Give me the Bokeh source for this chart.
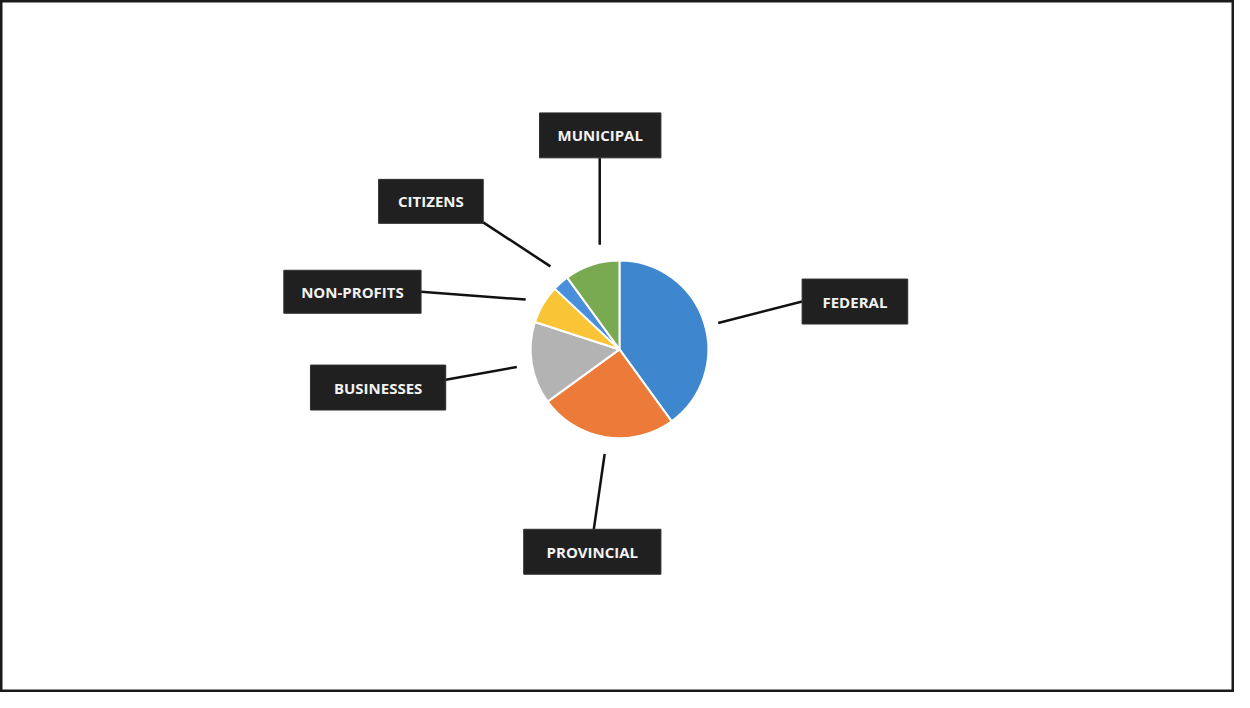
import math
from bokeh.plotting import figure
from bokeh.models import ColumnDataSource, Range1d
from bokeh.core.properties import value
from bokeh.embed import file_html
from bokeh.resources import INLINE

# ---- data ----
categories = ["FEDERAL", "PROVINCIAL", "BUSINESSES", "NON-PROFITS", "CITIZENS", "MUNICIPAL"]
shares = [40, 25, 15, 7, 3, 10]
colors = ["#3E86CD", "#EC7B3A", "#B3B3B3", "#F9C536", "#4A8FDB", "#79AA52"]

# ---- layout (reference image pixel space 1250 x 708) ----
W, H = 1234, 692
RW, RH = 1250, 708

def X(sx):
    return sx

def Y(sy):
    return RH - sy

pie_cx, pie_cy, pie_r = 627, 357, 90

# label boxes (left, top, right, bottom) and leader lines (inner x,y, outer x,y)
boxes = {
    "FEDERAL": (812, 285, 919, 331),
    "PROVINCIAL": (530, 541, 669, 587),
    "BUSINESSES": (314, 373, 451, 419),
    "NON-PROFITS": (287, 276, 426, 320),
    "CITIZENS": (383, 183, 489, 228),
    "MUNICIPAL": (546, 115, 669, 161),
}
leaders = {
    "FEDERAL": (727, 330, 812, 308),
    "PROVINCIAL": (612, 464, 601, 541),
    "BUSINESSES": (523, 375, 451, 388),
    "NON-PROFITS": (532, 306, 426, 298),
    "CITIZENS": (557, 272, 489, 227),
    "MUNICIPAL": (607, 250, 607, 161),
}

p = figure(width=W, height=H, x_range=Range1d(0, RW), y_range=Range1d(0, RH),
           output_backend="svg", toolbar_location=None, min_border=0,
           background_fill_color="white", border_fill_color="white")
p.axis.visible = False
p.grid.visible = False
p.outline_line_color = "#1a1a1a"
p.outline_line_width = 4

# ---- pie ----
total = float(sum(shares))
starts, ends = [], []
acc = 0.0
for v in shares:
    a0 = math.pi / 2 - 2 * math.pi * acc / total
    acc += v
    a1 = math.pi / 2 - 2 * math.pi * acc / total
    starts.append(a0)
    ends.append(a1)

src = ColumnDataSource(dict(cat=categories, share=shares, color=colors,
                            start=starts, end=ends))
p.wedge(x=X(pie_cx), y=Y(pie_cy), radius=pie_r, start_angle="start", end_angle="end",
        direction="clock", fill_color="color", line_color="white", line_width=2,
        source=src)

# ---- leader lines ----
for c in categories:
    x0, y0, x1, y1 = leaders[c]
    p.line([X(x0), X(x1)], [Y(y0), Y(y1)], line_color="#111111", line_width=2.5)

# ---- label boxes ----
lefts = [X(boxes[c][0]) for c in categories]
rights = [X(boxes[c][2]) for c in categories]
tops = [Y(boxes[c][1]) for c in categories]
bottoms = [Y(boxes[c][3]) for c in categories]
p.quad(left=lefts, right=rights, top=tops, bottom=bottoms,
       fill_color="#202020", line_color="#303030", line_width=1)

tx = [(l + r) / 2 for l, r in zip(lefts, rights)]
ty = [(t + b) / 2 for t, b in zip(tops, bottoms)]
p.text(x=tx, y=ty, text=categories, text_align="center", text_baseline="middle",
       text_color="#F2F2F2", text_font=value("Open Sans"), text_font_style="bold",
       text_font_size="15px")

open("out.html", "w").write(file_html(p, INLINE))
